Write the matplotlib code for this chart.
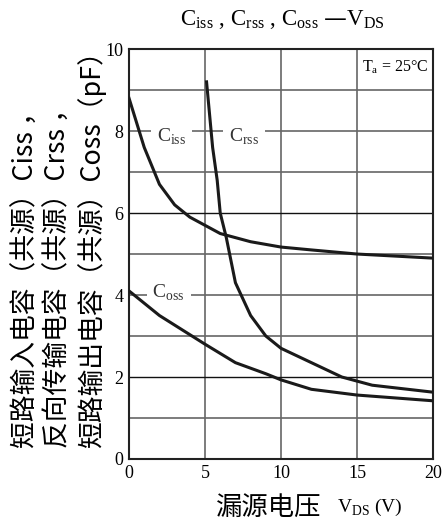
import matplotlib.pyplot as plt

# data
ciss_x = [0, 1, 2, 3, 4, 5, 6, 8, 10, 12, 15, 20]
ciss_y = [8.8, 7.6, 6.7, 6.2, 5.9, 5.7, 5.5, 5.3, 5.17, 5.1, 5.0, 4.9]
crss_x = [5.1, 5.5, 5.8, 6.0, 6.4, 7.0, 8.0, 9.0, 10.0, 12.0, 14.0, 16.0, 20.0]
crss_y = [9.2, 7.6, 6.8, 6.0, 5.4, 4.3, 3.5, 3.0, 2.7, 2.35, 2.0, 1.8, 1.63]
coss_x = [0, 2, 5, 7, 9, 10, 12, 15, 20]
coss_y = [4.1, 3.5, 2.8, 2.35, 2.08, 1.93, 1.7, 1.56, 1.42]
x_ticks = [0, 5, 10, 15, 20]
y_ticks = [0, 2, 4, 6, 8, 10]

SERIF = "Liberation Serif"
CJK = ["Noto Sans CJK SC", "DejaVu Sans"]

fig = plt.figure(figsize=(4.45, 5.31), dpi=100)
ax = fig.add_axes([0.290, 0.1356, 0.683, 0.772])
ax.set_xlim(0, 20)
ax.set_ylim(0, 10)

# grid
for x in range(5, 20, 5):
    ax.axvline(x, color="#666", lw=1.2, zorder=1)
for y in range(1, 10):
    dark = y in (2, 6)
    ax.axhline(y, color="#111" if dark else "#666", lw=1.0 if dark else 1.2, zorder=1)

for xs, ys in [(ciss_x, ciss_y), (crss_x, crss_y), (coss_x, coss_y)]:
    ax.plot(xs, ys, color="#1a1a1a", lw=2.2, zorder=3)

# curve labels sit on white patches that break the grid, under the curves
lab = dict(fontsize=14, fontfamily=SERIF, ha="center", va="center", zorder=2,
           color="#333",
           bbox=dict(boxstyle="square,pad=0.3", facecolor="white", edgecolor="none"))
ax.text(2.8, 7.85, r"C$_{\mathregular{iss}}$", **lab)
ax.text(7.55, 7.85, r"C$_{\mathregular{rss}}$", **lab)
ax.text(2.6, 4.05, r"C$_{\mathregular{oss}}$", **lab)
ax.text(17.55, 9.55, r"T$_{\mathregular{a}}$ = 25°C", fontsize=11.5, fontfamily=SERIF,
        ha="center", va="center")

ax.set_xticks(x_ticks)
ax.set_yticks(y_ticks)
ax.tick_params(length=0, labelsize=13, pad=4)
for t in ax.get_xticklabels() + ax.get_yticklabels():
    t.set_fontfamily(SERIF)
for s in ax.spines.values():
    s.set_linewidth(1.5)
    s.set_color("#222")

fig.text(0.634, 0.964, r"C$_{\mathregular{iss}}$ , C$_{\mathregular{rss}}$ , C$_{\mathregular{oss}}$ —V$_{\mathregular{DS}}$",
         fontsize=16.5, fontfamily=SERIF, ha="center", va="center")

ylines = ["短路输入电容（共源）Ciss ，", "反向传输电容（共源）Crss ，", "短路输出电容（共源）Coss（pF）"]
for i, line in enumerate(ylines):
    fig.text([26, 58, 92][i] / 445, 1 - 448 / 531, line, rotation=90, fontsize=19.3,
             family=CJK, ha="center", va="bottom")

fig.text(0.603, 0.045, "漏源电压", fontsize=19, family=CJK, ha="center", va="center")
fig.text(0.758, 0.045, r"V$_{\mathregular{DS}}$ (V)", fontsize=14, fontfamily=SERIF,
         ha="left", va="center")

fig.savefig("out.png", dpi=100, facecolor="white")
